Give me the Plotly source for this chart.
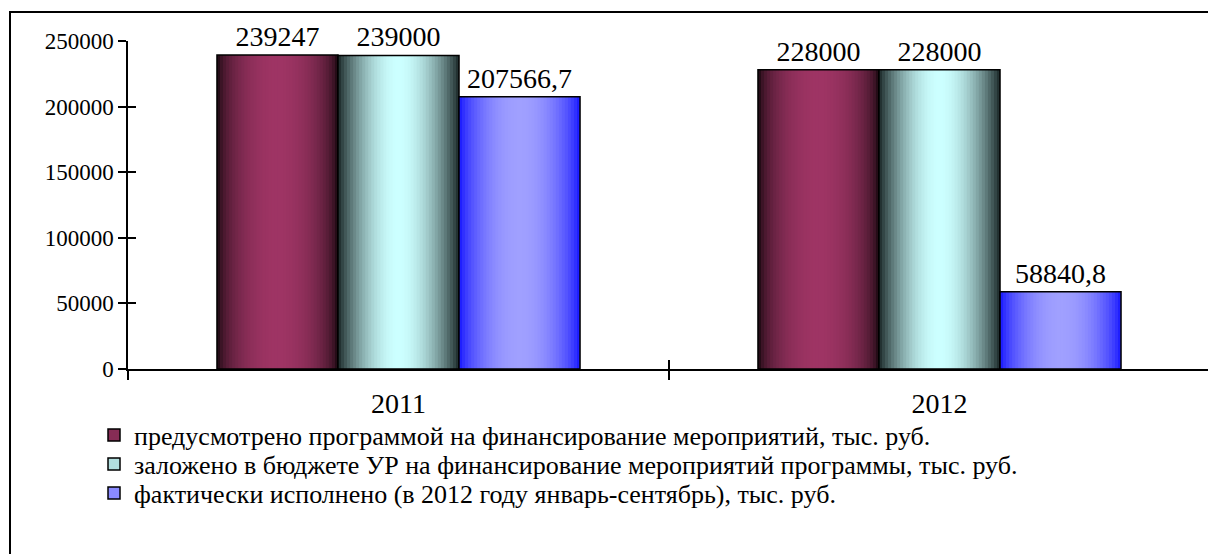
import plotly.graph_objects as go
import math

years = ["2011", "2012"]
series_names = [
    "предусмотрено программой на финансирование мероприятий, тыс. руб.",
    "заложено в бюджете УР на финансирование мероприятий программы, тыс. руб.",
    "фактически исполнено (в 2012 году январь-сентябрь), тыс. руб.",
]
planned = [239247, 228000]
budgeted = [239000, 228000]
executed = [207566.7, 58840.8]
y_ticks = [0, 50000, 100000, 150000, 200000, 250000]

values = [planned, budgeted, executed]
edge_colors = [(0, 0, 0), (25, 38, 38), (16, 16, 255)]
center_colors = [(158, 52, 100), (204, 255, 255), (160, 160, 255)]
powers = [0.45, 0.9, 0.7]

FONT = "Liberation Serif"
N = 40
bar_w = 0.2237
group_w = bar_w * 3

def fmt(v):
    s = str(v)
    if s.endswith(".0"):
        s = s[:-2]
    return s.replace(".", ",")

def col(e, c, b):
    return "rgb(%d,%d,%d)" % tuple(round(e[i] + (c[i] - e[i]) * b) for i in range(3))

# page has an 8px body margin; plot area sits at page x 128..1210, y 41..369
PW, PH = 1082, 328
legend_ids = ["legend", "legend2", "legend3"]
legend_y = [(369 - 435) / PH, (369 - 464) / PH, (369 - 493) / PH]

fig = go.Figure()
for s, vals in enumerate(values):
    base_off = -group_w / 2 + s * bar_w
    sw = bar_w / N
    for k in range(N):
        t = (k + 0.5) / N
        b = math.sin(math.pi * t) ** powers[s]
        off = base_off + k * sw
        wid = min(sw * 2.0, base_off + bar_w - off)
        fig.add_trace(go.Bar(
            x=years, y=vals, offset=off, width=wid,
            marker=dict(color=col(edge_colors[s], center_colors[s], b), line=dict(width=0)),
            showlegend=False, hoverinfo="skip",
        ))
    fig.add_trace(go.Bar(
        x=years, y=vals, offset=base_off, width=bar_w,
        marker=dict(color="rgba(0,0,0,0)", line=dict(color="black", width=1.5)),
        text=[fmt(v) for v in vals], textposition="outside",
        textfont=dict(family=FONT, size=28, color="black"),
        cliponaxis=False, showlegend=False,
    ))
    fig.add_trace(go.Bar(
        x=[years[0]], y=[None], name=series_names[s], legend=legend_ids[s],
        marker=dict(color=col(edge_colors[s], center_colors[s], 0.85), line=dict(color="black", width=1.5)),
        showlegend=True,
    ))

leg_common = dict(
    x=(94 - 128) / PW, xanchor="left", yanchor="middle",
    font=dict(size=26, family=FONT, color="black"), bgcolor="rgba(0,0,0,0)",
    itemwidth=30,
)

fig.update_layout(
    width=1216, height=554,
    margin=dict(l=120, r=14, t=33, b=193, autoexpand=False),
    barmode="overlay",
    plot_bgcolor="white", paper_bgcolor="white",
    font=dict(family=FONT, color="black"),
    xaxis=dict(
        type="category", categoryarray=years, range=[-0.5, 1.5],
        showline=True, linecolor="black", linewidth=1.5,
        ticks="outside", tickson="boundaries", ticklen=9, tickwidth=1.5, tickcolor="black",
        ticklabelstandoff=9, tickfont=dict(size=28, family=FONT), showgrid=False, zeroline=False,
    ),
    xaxis2=dict(
        type="category", categoryarray=years, range=[-0.5, 1.5], overlaying="x",
        ticks="inside", tickson="boundaries", ticklen=9, tickwidth=1.5, tickcolor="black",
        showticklabels=False, showgrid=False, zeroline=False, showline=False,
    ),
    yaxis=dict(
        range=[0, 250000], tickvals=y_ticks, ticktext=[str(v) for v in y_ticks],
        showline=True, linecolor="black", linewidth=1.5,
        ticks="outside", ticklen=8, tickwidth=1.5, tickcolor="black",
        tickfont=dict(size=23, family=FONT), showgrid=False, zeroline=False,
    ),
    yaxis2=dict(
        range=[0, 250000], tickvals=y_ticks, overlaying="y",
        ticks="inside", ticklen=8, tickwidth=1.5, tickcolor="black",
        showticklabels=False, showgrid=False, zeroline=False, showline=False,
    ),
    legend=dict(y=legend_y[0], **leg_common),
    legend2=dict(y=legend_y[1], **leg_common),
    legend3=dict(y=legend_y[2], **leg_common),
    shapes=[dict(
        type="rect", xref="paper", yref="paper",
        x0=(10 - 128) / PW, x1=(1220 - 128) / PW,
        y0=(369 - 560) / PH, y1=1 + (41 - 12) / PH,
        line=dict(color="black", width=2), fillcolor="rgba(0,0,0,0)", layer="below",
    )],
)
fig.add_trace(go.Scatter(x=years, y=[None, None], xaxis="x2", yaxis="y2", showlegend=False, hoverinfo="skip"))

fig.write_html("out.html")
